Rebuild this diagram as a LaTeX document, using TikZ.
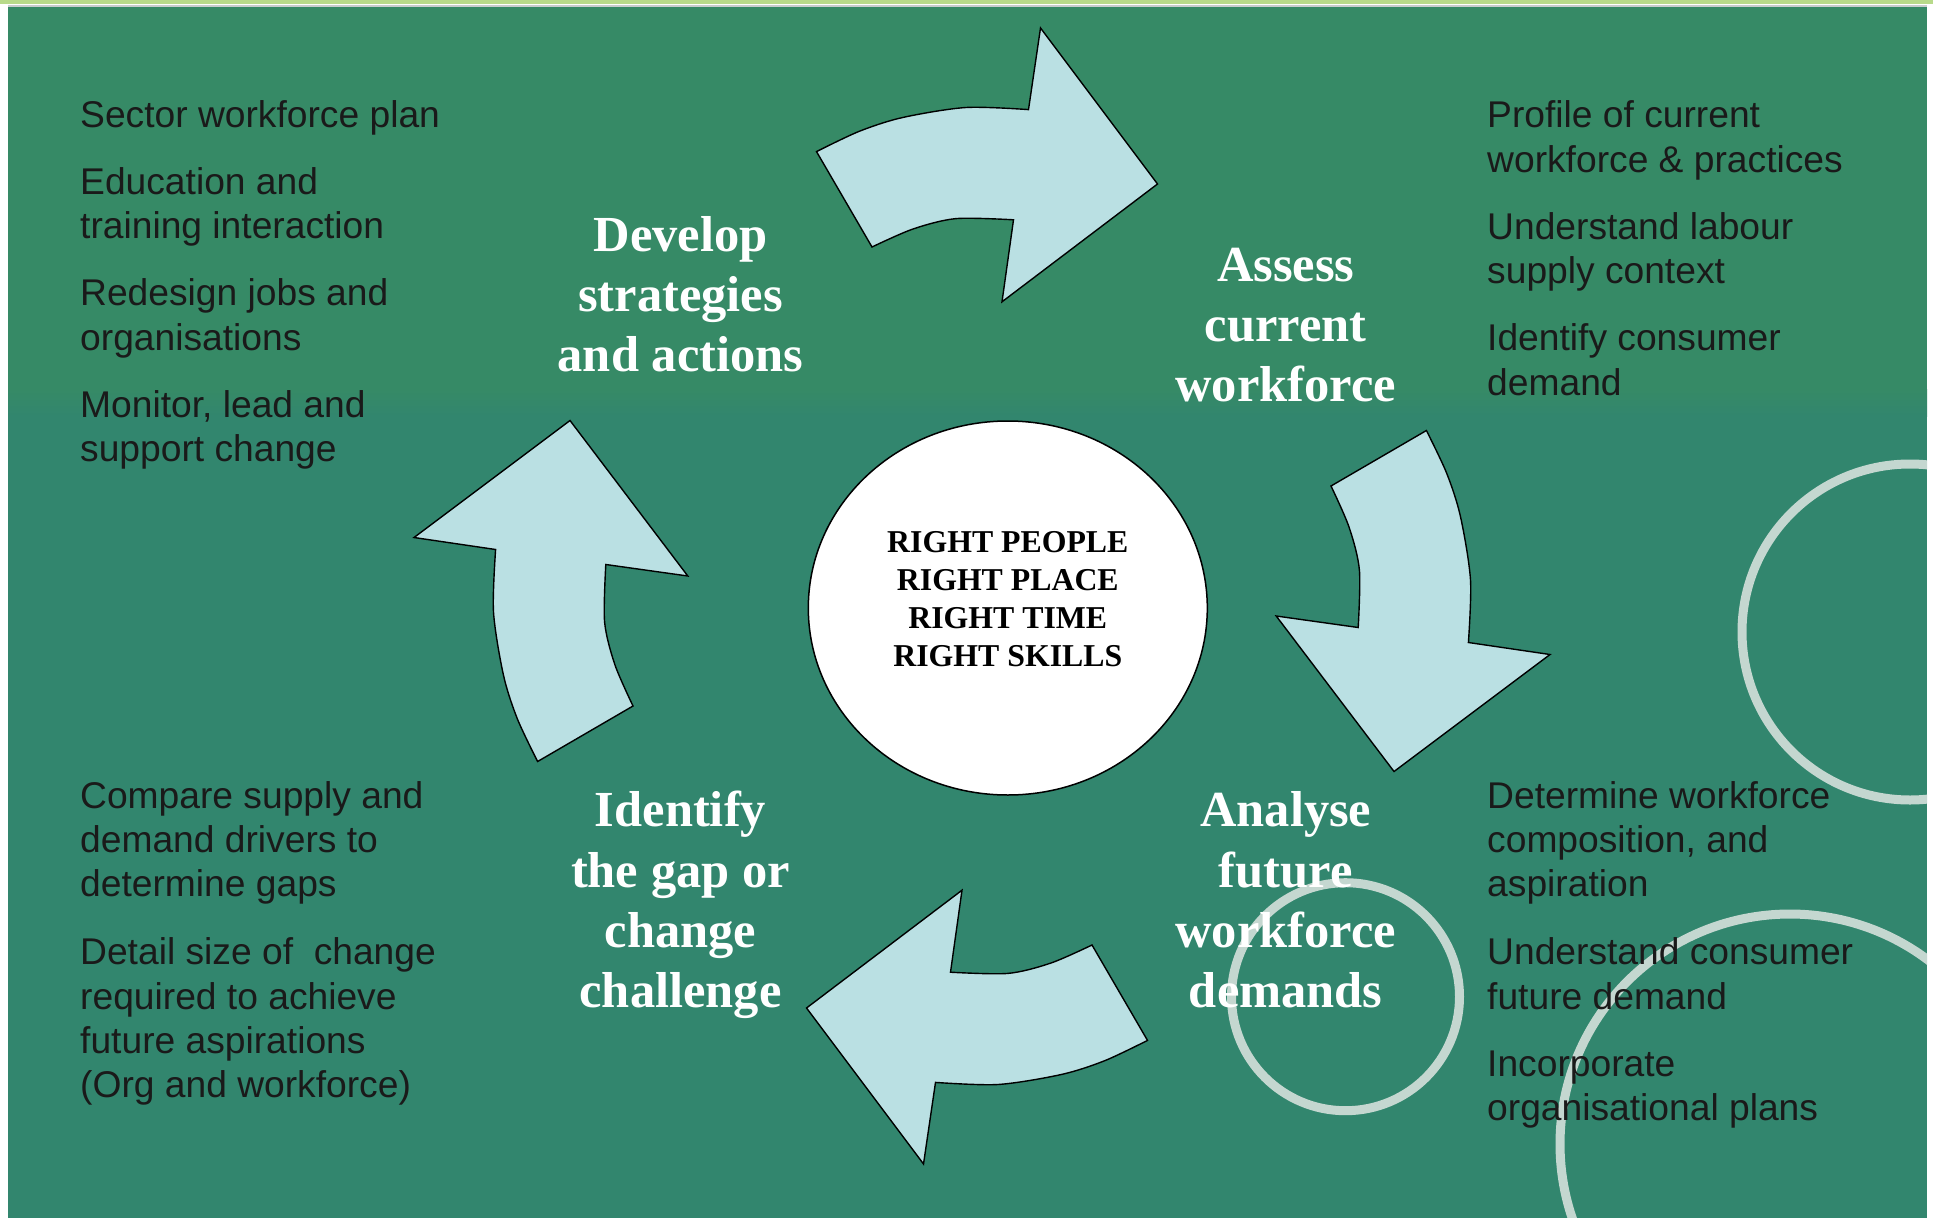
\documentclass[tikz,border=0pt]{standalone}
\usepackage{fontspec}
\setmainfont{Liberation Serif}
\setsansfont{Liberation Sans}
\usetikzlibrary{shapes.geometric}

\definecolor{bandlime}{RGB}{184,218,138}
\definecolor{bandgray}{RGB}{200,204,204}
\definecolor{fieldtop}{RGB}{54,138,102}
\definecolor{fieldlow}{RGB}{50,134,110}
\definecolor{ringgray}{RGB}{196,215,208}
\definecolor{arrowfill}{RGB}{186,224,227}
\definecolor{bodytext}{RGB}{26,26,26}

\begin{document}
\begin{tikzpicture}[x=1pt, y=-1pt,
  body/.style={font=\sffamily\fontsize{37.2}{44}\selectfont, text=bodytext, anchor=base west, inner sep=0pt},
  stage/.style={font=\rmfamily\bfseries\fontsize{50.5}{60}\selectfont, text=white, anchor=base, inner sep=0pt},
  core/.style={font=\rmfamily\bfseries\fontsize{31.8}{38}\selectfont, text=black, anchor=base, inner sep=0pt},
  hub/.style={ellipse, draw=black, line width=1.5pt, fill=white, inner sep=0pt,
              minimum width=399pt, minimum height=374pt},
  ring/.style={draw=ringgray, line width=9pt},
  arrowbody/.style={draw=black, line width=1.4pt, fill=arrowfill, line join=miter},
  cyclearrow/.pic={
    \draw[arrowbody]
      plot[smooth] coordinates {(-165.5,-444.4) (-122.7,-464.7) (-79.3,-478.5) (-16,-488.5) (46.5,-486.4)}
      -- (58.5,-568) -- (175.5,-412) -- (20,-294.2) -- (31.5,-376.2)
      -- plot[smooth] coordinates {(31.5,-376.2) (-26,-377.4) (-69,-367) (-110,-349)}
      -- cycle;
  }]

% page and header band
\useasboundingbox (0,0) rectangle (1933,1218);
\fill[white] (0,0) rectangle (1933,1218);
\fill[bandlime] (0,0) rectangle (1933,4);
\fill[bandgray] (8,5) rectangle (1927,7);

% green field, slightly warmer in the upper part
\fill[fieldtop] (8,7) rectangle (1927,390);
\shade[top color=fieldtop, bottom color=fieldlow] (8,389) rectangle (1927,416);
\fill[fieldlow] (8,415) rectangle (1927,1218);

% decorative rings
\begin{scope}
  \clip (8,7) rectangle (1927,1218);
  \draw[ring] (1910,632) circle[radius=168];
  \draw[ring] (1345.5,996.7) circle[radius=114];
  \draw[ring] (1790,1144) circle[radius=230];
\end{scope}

% the four curved arrows of the cycle
\pic (arrowtop)    at (982,596) {cyclearrow};
\pic[rotate=-90]  (arrowright)  at (982,596) {cyclearrow};
\pic[rotate=180]  (arrowbottom) at (982,596) {cyclearrow};
\pic[rotate=90]   (arrowleft)   at (982,596) {cyclearrow};

% centre
\node[hub] (hub) at (1007.8,608) {};
\node[core] (c1) at (1007.8,552.3) {RIGHT PEOPLE};
\node[core] (c2) at (1007.8,590.7) {RIGHT PLACE};
\node[core] (c3) at (1007.8,628.5) {RIGHT TIME};
\node[core] (c4) at (1007.8,666.7) {RIGHT SKILLS};

% stage titles
\node[stage] (dev1) at (680.5,251.7) {Develop};
\node[stage] (dev2) at (680.5,311.7) {strategies};
\node[stage] (dev3) at (680.5,371.7) {and actions};

\node[stage] (ass1) at (1285.8,281.7) {Assess};
\node[stage] (ass2) at (1285.8,341.7) {current};
\node[stage] (ass3) at (1285.8,401.7) {workforce};

\node[stage] (idn1) at (680.5,826.5) {Identify};
\node[stage] (idn2) at (680.5,887) {the gap or};
\node[stage] (idn3) at (680.5,947.3) {change};
\node[stage] (idn4) at (680.5,1007.7) {challenge};

\node[stage] (ana1) at (1285.8,826.5) {Analyse};
\node[stage] (ana2) at (1285.8,887) {future};
\node[stage] (ana3) at (1285.8,947.3) {workforce};
\node[stage] (ana4) at (1285.8,1007.7) {demands};

% upper left notes
\node[body] (lt1) at (80,127.7) {Sector workforce plan};
\node[body] (lt2) at (80,194.7) {Education and};
\node[body] (lt3) at (80,238.9) {training interaction};
\node[body] (lt4) at (80,305.7) {Redesign jobs and};
\node[body] (lt5) at (80,350) {organisations};
\node[body] (lt6) at (80,417) {Monitor, lead and};
\node[body] (lt7) at (80,461.3) {support change};

% lower left notes
\node[body] (lb1) at (80,808) {Compare supply and};
\node[body] (lb2) at (80,852.4) {demand drivers to};
\node[body] (lb3) at (80,896.8) {determine gaps};
\node[body] (lb4) at (80,964.7) {Detail size of\ \ change};
\node[body] (lb5) at (80,1009) {required to achieve};
\node[body] (lb6) at (80,1053.4) {future aspirations};
\node[body] (lb7) at (80,1097.8) {(Org and workforce)};

% upper right notes
\node[body] (rt1) at (1487,127.7) {Profile of current};
\node[body] (rt2) at (1487,172) {workforce \& practices};
\node[body] (rt3) at (1487,239.6) {Understand labour};
\node[body] (rt4) at (1487,283.8) {supply context};
\node[body] (rt5) at (1487,350.8) {Identify consumer};
\node[body] (rt6) at (1487,395.2) {demand};

% lower right notes
\node[body] (rb1) at (1487,808) {Determine workforce};
\node[body] (rb2) at (1487,852.4) {composition, and};
\node[body] (rb3) at (1487,896.8) {aspiration};
\node[body] (rb4) at (1487,964.7) {Understand consumer};
\node[body] (rb5) at (1487,1009) {future demand};
\node[body] (rb6) at (1487,1076) {Incorporate};
\node[body] (rb7) at (1487,1120.4) {organisational plans};

\end{tikzpicture}
\end{document}
